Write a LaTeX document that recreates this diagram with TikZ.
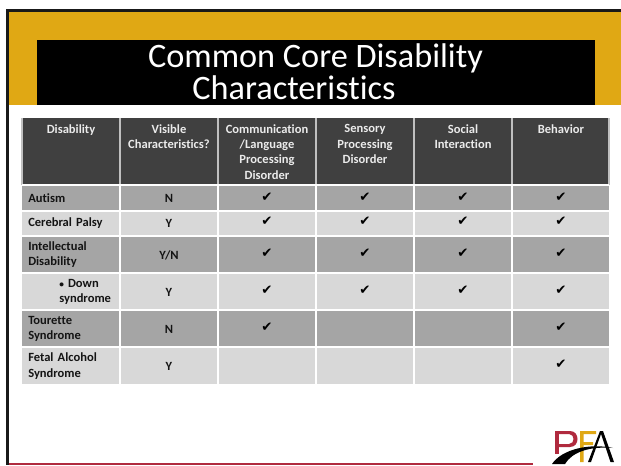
\documentclass[tikz,border=0pt]{standalone}
\usepackage{fontspec}
\setmainfont[Ligatures=NoCommon]{Carlito}
\newfontfamily\symfont{DejaVu Sans}
\definecolor{gold}{HTML}{E0A814}
\definecolor{hdr}{HTML}{404040}
\definecolor{dark}{HTML}{A5A5A5}
\definecolor{light}{HTML}{D8D8D8}
\definecolor{crim}{HTML}{B02A3E}
\tikzset{
  x=0.75pt,y=-0.75pt,
  hd/.style={text=white!92!black,font=\bfseries\fontsize{9.4}{11.4}\selectfont,align=center,anchor=north,inner sep=0pt,text width=72pt},
  rowlab/.style={text=black!92,font=\bfseries\fontsize{9.4}{11.4}\selectfont,align=left,anchor=west,inner sep=0pt,text width=70pt},
  val/.style={text=black!92,font=\bfseries\fontsize{9.4}{11.4}\selectfont,anchor=center,inner sep=0pt},
  chk/.style={font=\symfont\fontsize{10}{10}\selectfont,anchor=center,inner sep=0pt},
  ttl/.style={text=white,font=\fontsize{25.7}{25.7}\selectfont,inner sep=0pt,anchor=base},
  cellsep/.style={draw=white,line width=0.9pt}
}
\begin{document}
\begin{tikzpicture}
\useasboundingbox (0,0) rectangle (621,465);
\fill[white] (0,0) rectangle (621,465);
% frame
\fill[black!90] (6,9) rectangle (621,12);
\fill[black!90] (6,9) rectangle (9,465);
\fill[gold] (9,12) rectangle (621,105);
\fill[black] (37,40) rectangle (595,105);
\fill[crim] (9,463) rectangle (533,465);
\node[ttl] (title) at (315.5,67.5) {Common Core Disability};
\node[ttl] (title2) at (294,99) {Characteristics};
% table
\fill[hdr] (22,118) rectangle (609,185);
\fill[dark] (22,185) rectangle (609,211);
\fill[light] (22,211) rectangle (609,236);
\fill[dark] (22,236) rectangle (609,273);
\fill[light] (22,273) rectangle (609,310);
\fill[dark] (22,310) rectangle (609,347);
\fill[light] (22,347) rectangle (609,384);
\foreach \x in {120,218,316,414,512} \draw[draw=dark!70!white,line width=0.9pt] (\x,118) -- (\x,185);
\draw[draw=dark!70!white,line width=0.9pt] (22,118) -- (22,185);
\draw[draw=dark!70!white,line width=0.9pt] (609,118) -- (609,185);
\foreach \x in {120,218,316,414,512} \draw[cellsep] (\x,185) -- (\x,384);
\foreach \y in {211,236,273,310,347} \draw[cellsep] (22,\y) -- (609,\y);
\draw[draw=white,line width=1.4pt] (22,185) -- (609,185);
% header
\node[hd] (h1) at (71,124.5) {Disability};
\node[hd] (h2) at (169,124.5) {Visible\\Characteristics?};
\node[hd] (h3) at (267,124.5) {Communication\\/Language\\Processing\\Disorder};
\node[hd] (h4) at (365,124.5) {Sensory\\Processing\\Disorder};
\node[hd] (h5) at (463,124.5) {Social\\Interaction};
\node[hd] (h6) at (561,124.5) {Behavior};
% row labels
\node[rowlab] (r1) at (28,198) {Autism};
\node[rowlab] (r2) at (28,223) {Cerebral Palsy};
\node[rowlab] (r3) at (28,254.5) {Intellectual\\Disability};
\node[rowlab,text width=50pt] (r4) at (59,292) {{\fontsize{7}{7}\selectfont\textbullet}\,\,Down\\syndrome};
\node[rowlab] (r5) at (28,329) {Tourette\\Syndrome};
\node[rowlab] (r6) at (28,366) {Fetal Alcohol\\Syndrome};
% values
\node[val] (v1) at (169,198) {N};
\node[val] (v2) at (169,223) {Y};
\node[val] (v3) at (169,255) {Y/N};
\node[val] (v4) at (169,292) {Y};
\node[val] (v5) at (169,329) {N};
\node[val] (v6) at (169,366) {Y};
% checks
\foreach \x/\ys in {267/{197,221,253,290,327},365/{197,221,253,290},463/{197,221,253,290},561/{197,221,253,290,327,364}}{
  \foreach \y in \ys { \node[chk] at (\x,\y) {✔}; }
}
% logo
\fill[crim] (555,431) rectangle (558.5,454);
\fill[crim,even odd rule] (555,431) -- (570,431) .. controls (580,431) and (580,447) .. (570,447) -- (555,447) -- cycle (558.5,434) -- (569,434) .. controls (575,434) and (575,444) .. (569,444) -- (558.5,444) -- cycle;
\fill[gold] (580,431) -- (596,431) -- (596,434) -- (583.5,434) -- (583.5,442) -- (593,442) -- (593,445) -- (583.5,445) -- (583.5,462) -- (580,462) -- cycle;
\fill[black] (600,431) -- (603,431) -- (614,462) -- (610.5,462) -- (601,434) -- (591,462) -- (588,462) -- cycle;
\fill[black] (552,464) .. controls (562,449) and (590,443) .. (613,448) .. controls (590,446) and (572,452) .. (565,464) -- cycle;
\end{tikzpicture}
\end{document}
